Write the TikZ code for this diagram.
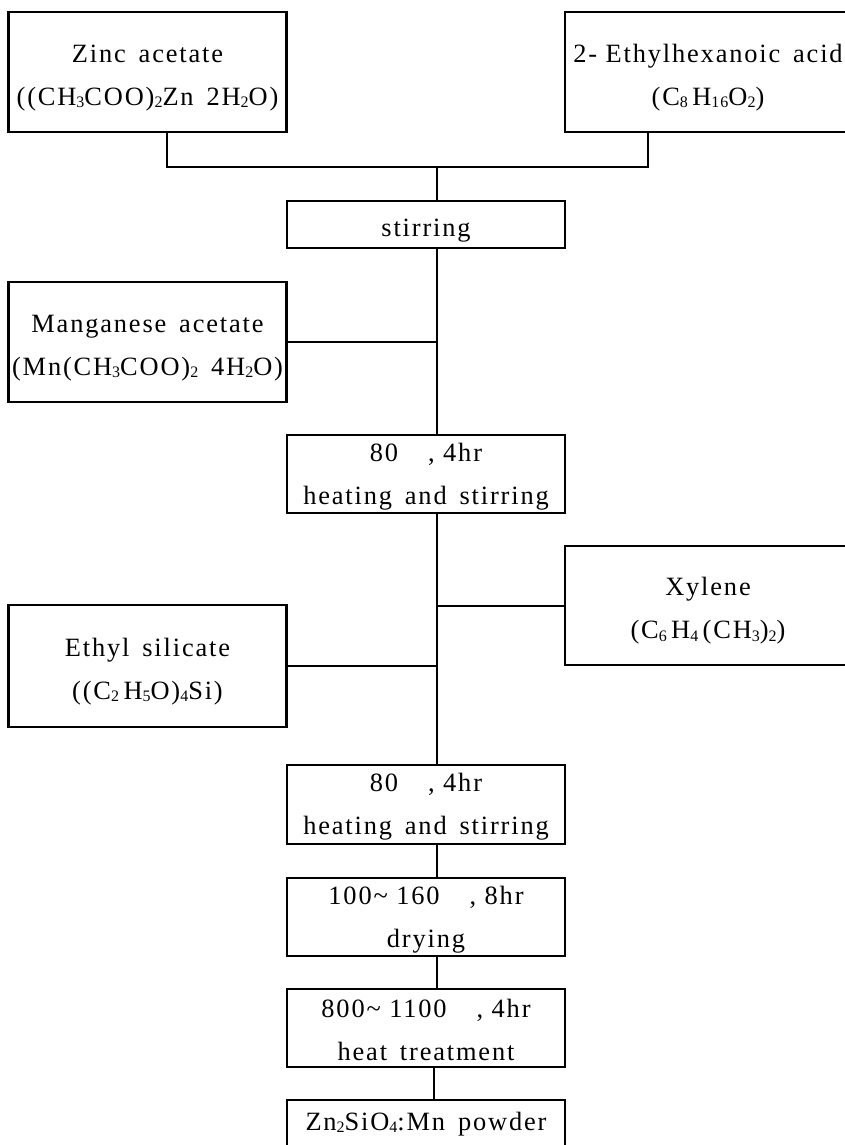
\documentclass[tikz,border=0pt]{standalone}
\usepackage{fontspec}
\setmainfont{Liberation Serif}[LetterSpace=7]
\usepackage{tikz}
\newcommand{\chsub}[1]{\raisebox{-0.2ex}{\fontsize{8}{8}\selectfont #1}}
\newcommand{\gap}{\hspace{15pt}}
\newcommand{\topstrut}{\rule{0pt}{14.5pt}}
\newcommand{\stepstrut}{\rule{0pt}{11.5pt}}

\begin{document}
\begin{tikzpicture}[x=0.5pt,y=-0.5pt,
    stage/.style={draw,line width=1.1pt,inner sep=0pt,align=center,
      minimum width=139pt,font=\fontsize{13.2}{21.5}\selectfont},
    wire/.style={line width=1pt}]
    \useasboundingbox (0,0) rectangle (845,1145);
    % Raw materials
    \node[stage,minimum height=60pt] (zinc) at (147.5,72)
      {\topstrut Zinc \,acetate\\((CH\chsub{3}COO)\chsub{2}Zn \,2H\chsub{2}O)};
    \node[stage,minimum width=143pt,minimum height=60pt] (ethacid) at (708,72)
      {\topstrut 2- Ethylhexanoic \,acid\\(C\chsub{8}\,H\chsub{16}O\chsub{2})};
    \node[stage,minimum height=23.5pt] (stir) at (426,224.5) {\topstrut stirring};
    \node[stage,minimum height=60pt] (mnac) at (147.5,342)
      {\topstrut Manganese \,acetate\\(Mn(CH\chsub{3}COO)\chsub{2} \,4H\chsub{2}O)};
    \node[stage,minimum height=39pt] (heatA) at (426,474)
      {\stepstrut 80\gap, 4hr\\heating \,and \,stirring};
    \node[stage,minimum width=143pt,minimum height=59.5pt] (xyl) at (708,605.5)
      {\topstrut Xylene\\(C\chsub{6}\,H\chsub{4}\,(CH\chsub{3})\chsub{2})};
    \node[stage,minimum height=61pt] (esil) at (147.5,666)
      {\topstrut Ethyl \,silicate\\((C\chsub{2}\,H\chsub{5}O)\chsub{4}Si)};
    % Processing steps
    \node[stage,minimum height=39.5pt] (heatB) at (426,804.5)
      {\stepstrut 80\gap, 4hr\\heating \,and \,stirring};
    \node[stage,minimum height=39pt] (dry) at (426,917)
      {\stepstrut 100\textasciitilde{} 160\gap, 8hr\\drying};
    \node[stage,minimum height=39pt] (treat) at (426,1028)
      {\stepstrut 800\textasciitilde{} 1100\gap, 4hr\\heat \,treatment};
    \node[stage,minimum height=24pt] (powder) at (426,1124)
      {Zn\chsub{2}SiO\chsub{4}:Mn \,powder};
    % Connectors
    \coordinate (trunk) at (437,167);
    \draw[wire] (zinc.south -| 167,0) |- (trunk) -| (ethacid.south -| 648,0);
    \draw[wire] (trunk) -- (trunk |- stir.north);
    \draw[wire] (stir.south -| trunk) -- (heatA.north -| trunk);
    \draw[wire] (mnac.east) -- (mnac.east -| trunk);
    \draw[wire] (heatA.south -| trunk) -- (heatB.north -| trunk);
    \draw[wire] (xyl.west) -- (xyl.west -| trunk);
    \draw[wire] (esil.east) -- (esil.east -| trunk);
    \draw[wire] (heatB.south -| trunk) -- (dry.north -| trunk);
    \draw[wire] (dry.south -| trunk) -- (treat.north -| trunk);
    \draw[wire] (treat.south -| 434,0) -- (powder.north -| 434,0);
  \end{tikzpicture}
\end{document}
